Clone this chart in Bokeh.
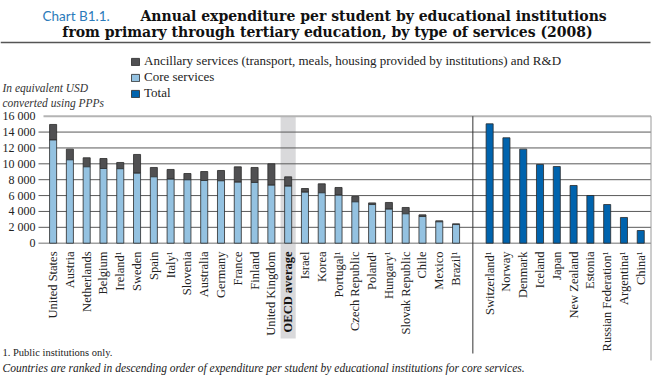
from bokeh.plotting import figure
from bokeh.models import ColumnDataSource, Legend, LegendItem, Range1d
from bokeh.core.properties import value
from bokeh.embed import file_html
from bokeh.resources import INLINE

# ---------------- data ----------------
left_countries = ["United States", "Austria", "Netherlands", "Belgium", "Ireland¹",
                  "Sweden", "Spain", "Italy¹", "Slovenia", "Australia", "Germany",
                  "France", "Finland", "United Kingdom", "OECD average", "Israel",
                  "Korea", "Portugal¹", "Czech Republic", "Poland¹", "Hungary¹",
                  "Slovak Republic", "Chile", "Mexico", "Brazil¹"]
left_core = [13000, 10500, 9620, 9410, 9380, 8820, 8360, 8070, 7980, 7900, 7860,
             7690, 7650, 7310, 7190, 6430, 6350, 6050, 5210, 4870, 4290, 3700,
             3360, 2690, 2350]
left_total = [14960, 11850, 10760, 10670, 10170, 11180, 9540, 9290, 8780, 9030,
              9160, 9620, 9540, 10000, 8360, 6890, 7480, 7020, 5880, 5080, 5130,
              4500, 3570, 2820, 2440]
right_countries = ["Switzerland¹", "Norway", "Denmark", "Iceland", "Japan",
                   "New Zealand", "Estonia", "Russian Federation¹", "Argentina¹",
                   "China¹"]
right_total = [15040, 13280, 11850, 9920, 9660, 7270, 6010, 4870, 3240, 1600]

y_ticks = [0, 2000, 4000, 6000, 8000, 10000, 12000, 14000, 16000]
y_tick_labels = ["0", "2 000", "4 000", "6 000", "8 000", "10 000", "12 000",
                 "14 000", "16 000"]

title_tag = "Chart B1.1."
title_line1 = "Annual expenditure per student by educational institutions"
title_line2 = "from primary through tertiary education, by type of services (2008)"
legend_labels = ["Ancillary services (transport, meals, housing provided by institutions) and R&D",
                 "Core services", "Total"]
y_unit_lines = ["In equivalent USD", "converted using PPPs"]
note1 = "1. Public institutions only."
note2 = "Countries are ranked in descending order of expenditure per student by educational institutions for core services."
avg_name = "OECD average"

# ---------------- layout / styling ----------------
FONT = "Liberation Serif"
TITLE_FONT = "DejaVu Serif"
TAG_FONT = "Lato"
W, H = 656, 380
C_CORE = "#94c2e1"
C_ANC = "#505052"
C_TOT = "#0063ad"
C_EDGE = "#2a2a2a"
C_TXT = "#222222"
BAR_W = 0.42

# category slots
xs_left = list(range(len(left_countries)))
sep_x = len(left_countries)
xs_right = [sep_x + 1 + i for i in range(len(right_countries))]

# pixel geometry of the chart area
SLOT_PX = 16.79
FIRST_PX = 52.6
ZERO_PY, TOP_PY = 242.7, 115.7
Y_MAX = y_ticks[-1]
unit_px = (ZERO_PY - TOP_PY) / Y_MAX

X0 = -FIRST_PX / SLOT_PX
X1 = (W - FIRST_PX) / SLOT_PX
Y1 = ZERO_PY / unit_px
Y0 = -(H - ZERO_PY) / unit_px


def dx(px):
    return X0 + px * (X1 - X0) / W


def dy(py):
    return Y1 - py * (Y1 - Y0) / H


p = figure(width=W, height=H, x_range=Range1d(X0, X1), y_range=Range1d(Y0, Y1),
           x_axis_type=None, y_axis_type=None, output_backend="svg",
           toolbar_location=None, min_border=0)
p.outline_line_color = None
p.background_fill_color = "white"
p.border_fill_color = "white"

area_l = dx(43)
area_r = dx(650.5)
area_b = dy(353)

# OECD average band
avg_i = left_countries.index(avg_name)
p.quad(left=[avg_i - 0.45], right=[avg_i + 0.45], top=[Y_MAX], bottom=[dy(338)],
       fill_color="#d9d9db", line_color=None)

# grid lines + ticks
inner = y_ticks[1:-1]
p.segment(x0=[dx(38)] * len(inner), x1=[area_r] * len(inner), y0=inner, y1=inner,
          line_color="#5a5a5a", line_width=1)
p.segment(x0=[dx(38)], x1=[area_r], y0=[y_ticks[0]], y1=[y_ticks[0]],
          line_color="#a0a0a0", line_width=1.5)
p.segment(x0=[area_l], x1=[area_r], y0=[y_ticks[-1]], y1=[y_ticks[-1]],
          line_color="#b4b4b4", line_width=2)

# separator and right border
p.segment(x0=[sep_x], x1=[sep_x], y0=[Y_MAX], y1=[area_b], line_color="#333333",
          line_width=1)
p.segment(x0=[area_r], x1=[area_r], y0=[Y_MAX], y1=[dy(360)], line_color="#9a9a9a",
          line_width=1)

# y tick labels
p.text(x=[dx(35)] * len(y_ticks), y=y_ticks, text=y_tick_labels, text_align="right",
       text_baseline="middle", text_font=value(FONT), text_font_size="12px",
       text_color=C_TXT)

# bars
src_l = ColumnDataSource(dict(x=xs_left, core=left_core, total=left_total))
src_r = ColumnDataSource(dict(x=xs_right, total=right_total))
r_anc = p.vbar(x="x", bottom="core", top="total", width=BAR_W, source=src_l,
               fill_color=C_ANC, line_color=C_EDGE, line_width=0.8)
r_core = p.vbar(x="x", bottom=0, top="core", width=BAR_W, source=src_l,
                fill_color=C_CORE, line_color=C_EDGE, line_width=0.8)
r_tot = p.vbar(x="x", bottom=0, top="total", width=BAR_W, source=src_r,
               fill_color=C_TOT, line_color=C_EDGE, line_width=0.8)

# category labels
lbl_y = dy(251)
names_reg = [n for n in left_countries if n != avg_name] + right_countries
xs_reg = [x for x, n in zip(xs_left, left_countries) if n != avg_name] + xs_right
p.text(x=xs_reg, y=[lbl_y] * len(xs_reg), text=names_reg, angle=1.5707963,
       text_align="right", text_baseline="middle", text_font=value(FONT),
       text_font_size="12.5px", text_color=C_TXT)
p.text(x=[avg_i], y=[lbl_y], text=[avg_name], angle=1.5707963,
       text_align="right", text_baseline="middle", text_font=value(FONT),
       text_font_size="12.5px", text_font_style="bold", text_color="#111111")

# legend
legend = Legend(items=[LegendItem(label=legend_labels[0], renderers=[r_anc]),
                       LegendItem(label=legend_labels[1], renderers=[r_core]),
                       LegendItem(label=legend_labels[2], renderers=[r_tot])],
                location=(130, H - 101), orientation="vertical",
                glyph_width=10, glyph_height=9, label_height=12, spacing=0,
                label_standoff=4, padding=0, margin=0,
                border_line_color=None, background_fill_alpha=0,
                label_text_font=FONT, label_text_font_size="13px",
                label_text_color=C_TXT)
p.add_layout(legend)


def add_text(text, px, py, size, color=C_TXT, style="normal", align="left", font=FONT):
    p.text(x=[dx(px)], y=[dy(py)], text=[text], text_font=value(font),
           text_font_size=size, text_color=color, text_font_style=style,
           text_align=align, text_baseline="middle")


add_text(title_tag, 42, 15, "13.5px", color="#2b7bba", font=TAG_FONT)
add_text(title_line1, 140, 15, "14px", color="#111111", style="bold", font=TITLE_FONT)
add_text(title_line2, 327, 31, "14px", color="#111111", style="bold", align="center",
         font=TITLE_FONT)
add_text(y_unit_lines[0], 2, 87, "11.5px", style="italic", color="#333333")
add_text(y_unit_lines[1], 2, 102, "11.5px", style="italic", color="#333333")
add_text(note1, 2, 352, "10.5px")
add_text(note2, 2, 367, "11.5px", style="italic")

# title rule
p.segment(x0=[dx(0)], x1=[dx(650)], y0=[dy(42)], y1=[dy(42)], line_color="#555555",
          line_width=1.5)

open("out.html", "w").write(file_html(p, INLINE))
